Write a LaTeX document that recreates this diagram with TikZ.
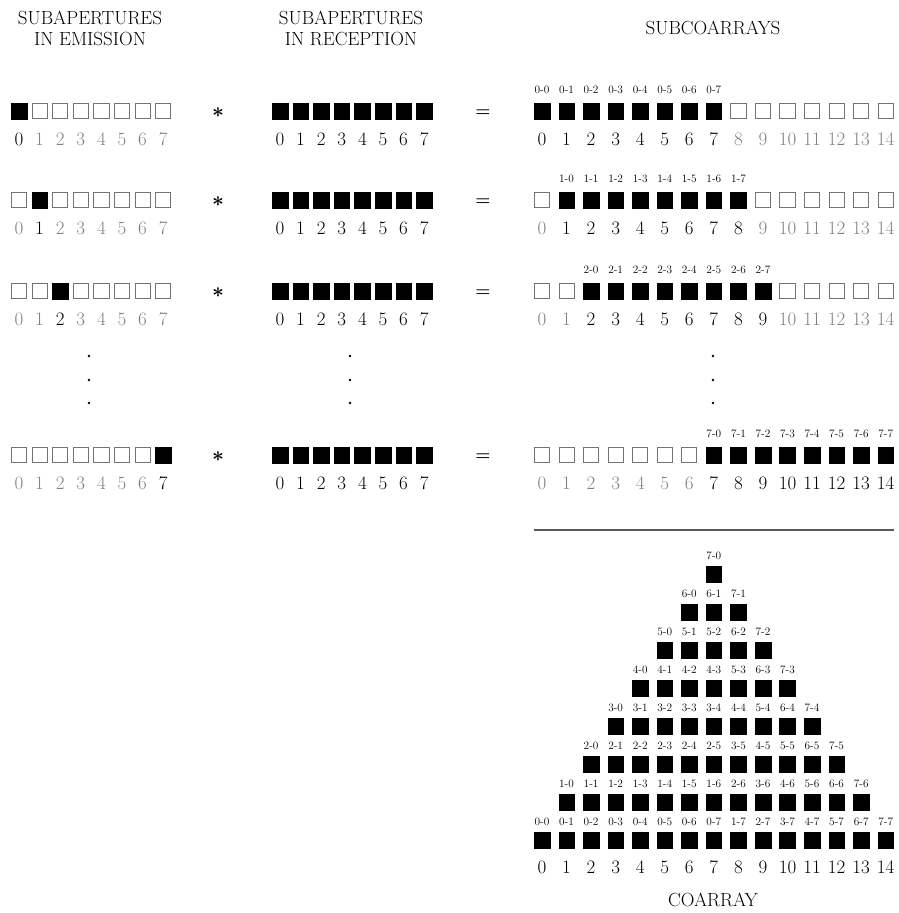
\documentclass[tikz,border=0pt]{standalone}
\usepackage{xcolor}
\usepackage{bm}
\definecolor{offtxt}{gray}{0.5}
\definecolor{offline}{gray}{0.45}
\definecolor{rulecol}{gray}{0.35}
\newcommand{\mybigfont}{\fontsize{19}{22}\selectfont}
\newcommand{\mysmallfont}{\fontsize{11.3}{13}\selectfont}
\begin{document}
\begin{tikzpicture}[x=1pt,y=-1pt,
  sqon/.style={draw=black,fill=black,line width=0.5pt,minimum size=15.6pt,inner sep=0pt,outer sep=0pt},
  sqoff/.style={draw=offline,fill=white,line width=0.9pt,minimum size=15.2pt,inner sep=0pt,outer sep=0pt},
  numon/.style={font=\mybigfont,inner sep=0pt,anchor=base,text=black},
  numoff/.style={font=\mybigfont,inner sep=0pt,anchor=base,text=offtxt},
  smalllab/.style={font=\mysmallfont,inner sep=0pt,anchor=base},
  head/.style={font=\mybigfont,inner sep=0pt,anchor=base},
  opsym/.style={font=\fontsize{21}{24}\selectfont,inner sep=0pt},
  eqsym/.style={font=\fontsize{17}{20}\selectfont,inner sep=0pt},
  vdot/.style={circle,fill=black,inner sep=0pt,minimum size=2.6pt},
  sepline/.style={draw=rulecol,line width=1.1pt}]
\useasboundingbox (0,0) rectangle (898,913);

% headers
\node[head] (h1a) at (90,24) {SUBAPERTURES};
\node[head] (h1b) at (90,45) {IN EMISSION};
\node[head] (h2a) at (351,24) {SUBAPERTURES};
\node[head] (h2b) at (351,45) {IN RECEPTION};
\node[head] (h3) at (713,34) {SUBCOARRAYS};

% rows
\foreach \r/\y [count=\k] in {0/111,1/200,2/291,7/455} {
  % emission
  \foreach \i in {0,...,7} {
    \pgfmathsetmacro\xx{19+20.6*\i}
    \ifnum\i=\r\def\st{sqon}\def\nt{numon}\else\def\st{sqoff}\def\nt{numoff}\fi
    \node[\st] (e-\k-\i) at (\xx,\y) {};
    \node[\nt] (en-\k-\i) at (\xx,\y+34) {\i};
  }
  \node[opsym] (ast-\k) at (218,\y+2) {$\bm{\ast}$};
  % reception
  \foreach \i in {0,...,7} {
    \pgfmathsetmacro\xx{280+20.6*\i}
    \node[sqon] (rc-\k-\i) at (\xx,\y) {};
    \node[numon] (rn-\k-\i) at (\xx,\y+34) {\i};
  }
  \node[eqsym] (eq-\k) at (483,\y+2) {$\bm{=}$};
  % subcoarray
  \foreach \c in {0,...,14} {
    \pgfmathsetmacro\xx{542+24.55*\c}
    \pgfmathtruncatemacro\j{\c-\r}
    \pgfmathtruncatemacro\on{and(\c>=\r,\c<=\r+7)}
    \ifnum\on=1
      \node[sqon] (s-\k-\c) at (\xx,\y) {};
      \node[numon] (sn-\k-\c) at (\xx,\y+34) {\c};
      \node[smalllab] (sl-\k-\c) at (\xx,\y-17.5) {\r-\j};
    \else
      \node[sqoff] (s-\k-\c) at (\xx,\y) {};
      \node[numoff] (sn-\k-\c) at (\xx,\y+34) {\c};
    \fi
  }
}

% vertical ellipses
\foreach \xx/\nm in {89/l,350/m,713/r} {
  \foreach \yy [count=\n] in {356,380,403} {
    \node[vdot] (dot-\nm-\n) at (\xx,\yy) {};
  }
}

% separator
\coordinate (lineA) at (534,530);
\coordinate (lineB) at (894,530);
\draw[sepline] (lineA) -- (lineB);

% coarray triangle
\foreach \r in {0,...,7} {
  \pgfmathsetmacro\yy{840.5-38*\r}
  \pgfmathtruncatemacro\cmax{14-\r}
  \foreach \c in {\r,...,\cmax} {
    \pgfmathsetmacro\xx{542+24.55*\c}
    \ifnum\c<8
      \pgfmathtruncatemacro\ia{\r}
      \pgfmathtruncatemacro\ib{\c-\r}
    \else
      \pgfmathtruncatemacro\ia{\c-7+\r}
      \pgfmathtruncatemacro\ib{7-\r}
    \fi
    \node[sqon] (t-\r-\c) at (\xx,\yy) {};
    \node[smalllab] (tl-\r-\c) at (\xx,\yy-15.5) {\ia-\ib};
  }
}
\foreach \c in {0,...,14} {
  \pgfmathsetmacro\xx{542+24.55*\c}
  \node[numon] (cn-\c) at (\xx,873) {\c};
}
\node[head] (coarray) at (713,906) {COARRAY};
\end{tikzpicture}
\end{document}
